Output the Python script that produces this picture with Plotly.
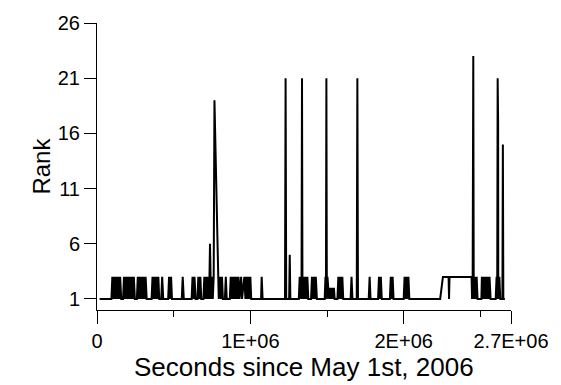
import plotly.graph_objects as go

# Time (seconds since May 1st, 2006) and rank
seconds = [
    17000,
    94000, 100000, 107000, 113000, 119000, 126000, 132000, 138000, 145000, 151000, 158000,
    170000, 176000, 183000, 189000, 196000, 202000, 208000, 215000, 221000, 228000, 234000, 240000, 247000,
    260000, 266000, 272000, 279000, 285000, 292000, 298000, 304000, 311000, 317000, 324000,
    356000, 362000, 368000, 375000, 381000, 387000, 394000, 400000, 406000,
    419000, 425000, 432000,
    464000, 470000, 477000, 483000, 489000,
    553000, 559000, 566000,
    617000, 623000, 630000, 636000, 643000,
    655000, 661000, 668000, 674000, 680000,
    694000, 700000, 706000, 713000, 719000, 725000, 731000, 737000, 743000, 749000, 755000,
    761000, 766000, 794000,
    802000, 808000, 815000, 821000,
    834000, 840000, 846000,
    866000, 872000, 879000, 885000, 891000, 898000, 904000, 911000, 917000, 923000, 930000,
    940000, 946000,
    961000, 968000, 974000, 981000, 987000, 993000, 1000000, 1006000,
    1070000, 1074000, 1080000,
    1226000, 1230000, 1234000, 1253000, 1257000, 1261000,
    1316000, 1322000, 1328000, 1334000, 1337000, 1340000, 1347000, 1353000, 1360000, 1366000, 1372000, 1378000,
    1396000, 1402000, 1408000, 1415000, 1421000, 1427000, 1434000,
    1485000, 1490000, 1493000, 1496000, 1499000, 1503000, 1508000, 1514000, 1520000, 1527000, 1533000, 1539000, 1545000, 1550000,
    1568000, 1574000, 1581000, 1587000, 1593000, 1600000, 1606000,
    1654000, 1660000, 1666000,
    1694000, 1698000, 1702000,
    1772000, 1778000, 1784000,
    1833000, 1839000, 1845000, 1851000, 1857000,
    1910000, 1916000, 1922000, 1928000, 1934000,
    2000000, 2006000, 2012000, 2019000, 2025000, 2031000, 2037000,
    2238000, 2256000, 2293000, 2296000, 2299000, 2443000,
    2446000, 2450000, 2454000, 2457000, 2463000, 2470000, 2476000, 2482000,
    2507000, 2510000, 2516000, 2522000, 2529000, 2535000, 2541000, 2548000, 2554000, 2560000, 2567000,
    2600000, 2606000, 2610000, 2613000, 2616000, 2617000, 2624000, 2630000,
    2644000, 2647000, 2650000,
    2660000,
]
rank = [
    1,
    1, 3, 1, 3, 1, 3, 1, 3, 1, 3, 1,
    1, 3, 1, 3, 1, 3, 1, 3, 1, 3, 1, 3, 1,
    1, 3, 1, 3, 1, 3, 1, 3, 1, 3, 1,
    1, 3, 1, 3, 1, 3, 1, 3, 1,
    1, 3, 1,
    1, 3, 1, 3, 1,
    1, 3, 1,
    1, 3, 1, 3, 1,
    1, 3, 1, 3, 1,
    1, 3, 1, 3, 1, 3, 1, 6, 1, 3, 1,
    3, 19, 1,
    3, 1, 3, 1,
    1, 3, 1,
    1, 3, 1, 3, 1, 3, 1, 3, 1, 3, 1,
    3, 1,
    3, 1, 3, 1, 3, 1, 3, 1,
    1, 3, 1,
    1, 21, 1, 1, 5, 1,
    1, 3, 1, 3, 21, 1, 3, 1, 3, 1, 3, 1,
    1, 3, 1, 3, 1, 3, 1,
    1, 3, 1, 21, 1, 3, 2, 1, 2, 1, 2, 1, 2, 1,
    1, 3, 1, 3, 1, 3, 1,
    1, 3, 1,
    1, 21, 1,
    1, 3, 1,
    1, 3, 1, 3, 1,
    1, 3, 1, 3, 1,
    1, 3, 1, 3, 1, 3, 1,
    1, 3, 3, 1, 3, 3,
    1, 3, 23, 1, 3, 1, 3, 1,
    1, 3, 1, 3, 1, 3, 1, 3, 1, 3, 1,
    1, 3, 1, 21, 17, 1, 3, 1,
    1, 15, 1,
    1,
]

x_tickvals = [0, 1000000, 2000000, 2700000]
x_ticktext = ["0", "1E+06", "2E+06", "2.7E+06"]
x_minor = [500000, 1500000, 2500000]
y_tickvals = [1, 6, 11, 16, 21, 26]

fig = go.Figure(go.Scatter(x=seconds, y=rank, mode="lines",
                           line=dict(color="black", width=2)))

fig.update_layout(
    width=561, height=385,
    margin=dict(l=97, r=41, t=21, b=75),
    paper_bgcolor="white", plot_bgcolor="white",
    showlegend=False,
    font=dict(family="Liberation Sans, Arial, sans-serif", color="black"),
)
fig.update_xaxes(
    range=[0, 2700000], tickmode="array", tickvals=x_tickvals, ticktext=x_ticktext,
    ticks="outside", ticklen=13, tickwidth=1, tickcolor="black",
    showline=True, linecolor="black", linewidth=1,
    showgrid=False, zeroline=False, tickfont=dict(size=20),
    minor=dict(tickmode="array", tickvals=x_minor, ticks="outside", ticklen=6,
               tickwidth=1, tickcolor="black", showgrid=False),
)
fig.update_yaxes(
    range=[0, 26], tickmode="array", tickvals=y_tickvals,
    ticks="outside", ticklen=12, tickwidth=1, tickcolor="black",
    showline=True, linecolor="black", linewidth=1,
    showgrid=False, zeroline=False, tickfont=dict(size=20),
)
fig.add_annotation(text="Seconds since May 1st, 2006", xref="paper", yref="paper",
                   x=0.5, y=-0.2, xanchor="center", yanchor="middle",
                   showarrow=False, font=dict(size=26))
fig.add_annotation(text="Rank", xref="paper", yref="paper",
                   x=-0.135, y=0.5, xanchor="center", yanchor="middle",
                   textangle=-90, showarrow=False, font=dict(size=24))

fig.write_html("out.html")
